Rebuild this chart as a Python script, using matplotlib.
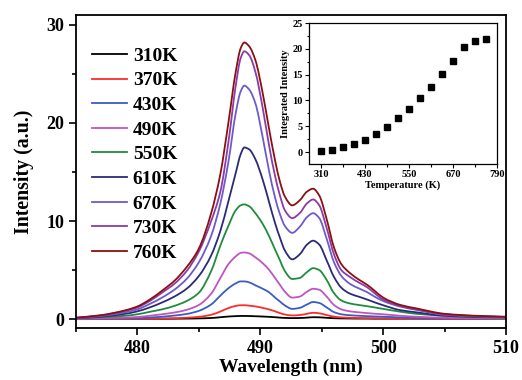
import numpy as np
import matplotlib.pyplot as plt
from matplotlib.path import Path
from matplotlib.patches import PathPatch
from matplotlib.lines import Line2D
from matplotlib.ticker import MultipleLocator, AutoMinorLocator

plt.rcParams['font.family'] = 'Liberation Serif'
plt.rcParams['font.weight'] = 'bold'

# Emission spectra sampled on a shared wavelength grid (nm)
wavelength = [475, 477, 479, 480, 481, 482, 483, 484, 485, 486, 486.75, 487.4, 488, 488.4, 488.7,
              489.1, 489.6, 490.2, 490.7, 491.2, 491.6, 492.0, 492.6, 493.2, 493.8, 494.3, 494.8,
              495.4, 496.0, 496.6, 497.3, 498.0, 498.7, 499.3, 500.0, 501.4, 502.7, 505.0, 507.5, 510.0]

temps = ['310K', '370K', '430K', '490K', '550K', '610K', '670K', '730K', '760K']
colors = ['#000000', '#ff2a2a', '#3a5cc4', '#c055c0', '#1f8c3c', '#2c2a78', '#6a5ccc', '#8c3aa8', '#8b1010']

i_310 = [0.02, 0.02, 0.03, 0.03, 0.04, 0.04, 0.05, 0.06, 0.08, 0.12, 0.2, 0.27, 0.31, 0.33, 0.33,
         0.32, 0.3, 0.27, 0.24, 0.2, 0.16, 0.13, 0.11, 0.12, 0.16, 0.2, 0.19,
         0.14, 0.1, 0.08, 0.07, 0.06, 0.06, 0.05, 0.05, 0.05, 0.05, 0.04, 0.04, 0.04]
i_370 = [0.0, 0.01, 0.02, 0.03, 0.05, 0.07, 0.1, 0.15, 0.24, 0.45, 0.78, 1.13, 1.35, 1.42, 1.42,
         1.38, 1.3, 1.15, 1.0, 0.8, 0.62, 0.48, 0.38, 0.42, 0.55, 0.65, 0.6,
         0.42, 0.26, 0.18, 0.14, 0.12, 0.1, 0.09, 0.08, 0.06, 0.05, 0.03, 0.02, 0.02]
i_430 = [0.03, 0.05, 0.08, 0.1, 0.17, 0.25, 0.37, 0.53, 0.85, 1.5, 2.4, 3.15, 3.65, 3.85, 3.85,
         3.75, 3.45, 3.1, 2.75, 2.2, 1.8, 1.4, 1.05, 1.15, 1.5, 1.75, 1.65,
         1.2, 0.72, 0.5, 0.4, 0.35, 0.31, 0.28, 0.25, 0.18, 0.12, 0.08, 0.06, 0.05]
i_490 = [0.05, 0.1, 0.17, 0.22, 0.35, 0.5, 0.68, 0.95, 1.45, 2.6, 4.2, 5.6, 6.4, 6.75, 6.8,
         6.7, 6.3, 5.7, 5.05, 4.2, 3.5, 2.8, 2.2, 2.3, 2.8, 3.1, 3.0,
         2.3, 1.45, 1.0, 0.8, 0.7, 0.62, 0.56, 0.5, 0.35, 0.25, 0.15, 0.1, 0.08]
i_550 = [0.1, 0.2, 0.35, 0.5, 0.75, 1.0, 1.35, 1.85, 2.7, 4.9, 7.5, 9.5, 11.1, 11.6, 11.7,
         11.5, 10.8, 9.7, 8.5, 7.1, 6.0, 4.9, 4.1, 4.2, 4.8, 5.2, 5.0,
         4.0, 2.65, 1.9, 1.6, 1.45, 1.32, 1.2, 1.05, 0.76, 0.55, 0.35, 0.2, 0.15]
i_610 = [0.1, 0.25, 0.55, 0.8, 1.2, 1.7, 2.3, 3.1, 4.4, 6.5, 9.0, 12.0, 14.9, 16.8, 17.5,
         17.3, 16.3, 14.2, 12.0, 9.8, 8.3, 7.0, 6.1, 6.6, 7.6, 8.0, 7.6,
         6.0, 4.3, 3.2, 2.6, 2.3, 2.0, 1.72, 1.42, 0.92, 0.7, 0.35, 0.25, 0.2]
i_670 = [0.12, 0.32, 0.7, 1.0, 1.55, 2.2, 3.0, 4.1, 5.8, 8.5, 11.8, 16.0, 21.0, 23.2, 23.8,
         23.4, 22.0, 18.5, 15.2, 12.4, 10.7, 9.5, 8.8, 9.4, 10.4, 10.8, 10.3,
         8.2, 5.8, 4.4, 3.6, 3.15, 2.75, 2.3, 1.85, 1.28, 0.95, 0.45, 0.3, 0.22]
i_730 = [0.15, 0.38, 0.85, 1.2, 1.85, 2.7, 3.6, 4.9, 6.9, 10.0, 13.0, 18.0, 23.8, 26.6, 27.3,
         26.9, 25.2, 21.5, 17.8, 14.6, 12.6, 11.1, 10.3, 10.8, 11.8, 12.2, 11.6,
         9.3, 6.6, 5.0, 4.3, 3.75, 3.25, 2.65, 2.0, 1.35, 1.0, 0.5, 0.32, 0.22]
i_760 = [0.15, 0.4, 0.9, 1.3, 2.0, 2.9, 3.9, 5.3, 7.2, 10.8, 14.8, 20.0, 25.2, 27.6, 28.2,
         27.8, 26.4, 23.0, 19.5, 16.2, 14.0, 12.5, 11.6, 12.1, 13.0, 13.3, 12.6,
         10.2, 7.3, 5.6, 4.7, 4.05, 3.5, 2.9, 2.2, 1.45, 1.1, 0.55, 0.35, 0.25]
spectra = [i_310, i_370, i_430, i_490, i_550, i_610, i_670, i_730, i_760]

# Integrated intensity vs. temperature (inset)
temperature = [310, 340, 370, 400, 430, 460, 490, 520, 550, 580, 610, 640, 670, 700, 730, 760]
integrated = [0.15, 0.4, 0.9, 1.5, 2.4, 3.5, 4.9, 6.6, 8.4, 10.5, 12.7, 15.1, 17.6, 20.3, 21.6, 21.9]


def smooth_path(x, y):
    """Monotone cubic (Fritsch-Carlson) Bezier path through the samples."""
    x = np.asarray(x, float)
    y = np.asarray(y, float)
    h = np.diff(x)
    d = np.diff(y) / h
    m = np.zeros_like(y)
    m[0], m[-1] = d[0], d[-1]
    for k in range(1, len(x) - 1):
        if d[k - 1] * d[k] > 0:
            w1 = 2 * h[k] + h[k - 1]
            w2 = h[k] + 2 * h[k - 1]
            m[k] = (w1 + w2) / (w1 / d[k - 1] + w2 / d[k])
    verts = [(x[0], y[0])]
    codes = [Path.MOVETO]
    for k in range(len(x) - 1):
        verts += [(x[k] + h[k] / 3, y[k] + m[k] * h[k] / 3),
                  (x[k + 1] - h[k] / 3, y[k + 1] - m[k + 1] * h[k] / 3),
                  (x[k + 1], y[k + 1])]
        codes += [Path.CURVE4] * 3
    return Path(verts, codes)


fig = plt.figure(figsize=(5.22, 3.8), dpi=100)
ax = fig.add_axes([0.1456, 0.1368, 0.8238, 0.8237])

handles = []
for y, c, lab in zip(spectra, colors, temps):
    ax.add_patch(PathPatch(smooth_path(wavelength, y), fill=False, edgecolor=c, lw=1.3))
    handles.append(Line2D([], [], color=c, lw=1.3, label=lab))

ax.set_xlim(475, 510)
ax.set_ylim(-0.9, 31)
ax.xaxis.set_major_locator(MultipleLocator(10))
ax.xaxis.set_minor_locator(MultipleLocator(5))
ax.yaxis.set_major_locator(MultipleLocator(10))
ax.yaxis.set_minor_locator(MultipleLocator(5))
ax.tick_params(which='both', direction='out', top=False, right=False, width=1.2)
ax.tick_params(which='major', length=5, labelsize=13)
ax.tick_params(which='minor', length=3)
for s in ax.spines.values():
    s.set_linewidth(1.3)
ax.set_xlabel('Wavelength (nm)', fontsize=14, fontweight='bold', labelpad=1)
ax.set_ylabel('Intensity (a.u.)', fontsize=14.3, fontweight='bold', labelpad=9)

ax.legend(handles=handles, loc='upper left', bbox_to_anchor=(0.037, 0.897), frameon=False,
          fontsize=14, handlelength=1.8, handletextpad=0.3, labelspacing=0.36,
          borderpad=0, borderaxespad=0)

# Inset: integrated intensity
ins = fig.add_axes([0.592, 0.5684, 0.360, 0.371])
ins.plot(temperature, integrated, 's', color='black', ms=4)
ins.set_xlim(277, 790)
ins.set_ylim(-2.3, 25)
ins.set_xticks([310, 430, 550, 670, 790])
ins.xaxis.set_minor_locator(AutoMinorLocator(2))
ins.yaxis.set_major_locator(MultipleLocator(5))
ins.yaxis.set_minor_locator(MultipleLocator(2.5))
ins.tick_params(which='both', direction='out', top=False, right=False, width=0.8, labelsize=7.5, pad=1.5)
ins.tick_params(which='major', length=3)
ins.tick_params(which='minor', length=1.8)
for s in ins.spines.values():
    s.set_linewidth(0.9)
ins.set_xlabel('Temperature (K)', fontsize=7.5, fontweight='bold', labelpad=1)
ins.set_ylabel('Integrated Intensity', fontsize=7.5, fontweight='bold', labelpad=2)

fig.savefig('out.png', dpi=100)
